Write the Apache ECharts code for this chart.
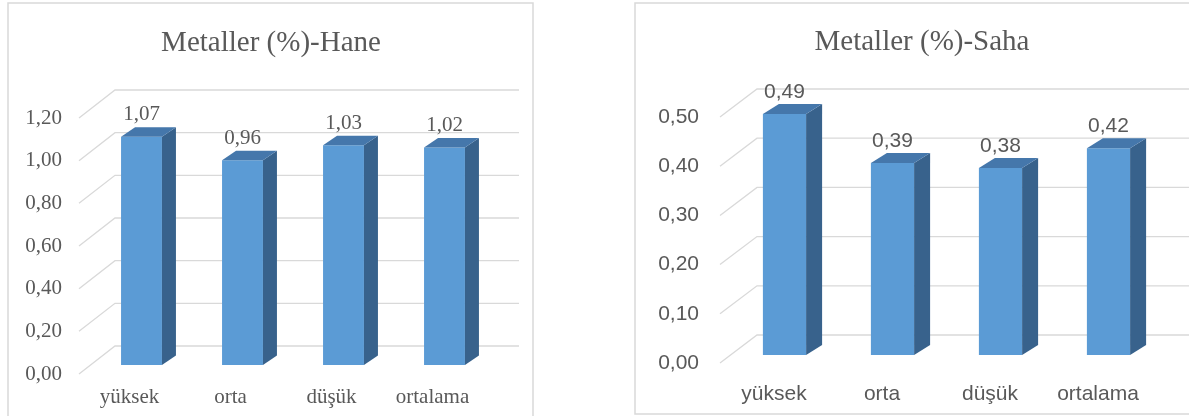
<!DOCTYPE html>
<html><head><meta charset="utf-8">
<script src="https://cdn.jsdelivr.net/npm/echarts@6/dist/echarts.min.js"></script>
<style>html,body{margin:0;padding:0;background:#fff}#c{width:1189px;height:416px}</style>
</head><body><div id="c"></div>
<script>
const categories = ['yüksek', 'orta', 'düşük', 'ortalama'];
const haneValues = [1.07, 0.96, 1.03, 1.02];
const sahaValues = [0.49, 0.39, 0.38, 0.42];
const haneTicks = [0, 0.2, 0.4, 0.6, 0.8, 1.0, 1.2];
const sahaTicks = [0, 0.1, 0.2, 0.3, 0.4, 0.5];
const haneTitle = 'Metaller (%)-Hane';
const sahaTitle = 'Metaller (%)-Saha';

const TXT = '#595959', GRID = '#d9d9d9';
const FRONT = '#5b9bd5', SIDE = '#38628c', TOP = '#4577ab';
const SERIF = '"Liberation Serif", "DejaVu Serif", serif';
const SANS = '"Liberation Sans", Arial, sans-serif';
const fmt = v => Number(v).toFixed(2).replace('.', ',');

function wallRender(p) {
  return function (params, api) {
    const t = api.value(1);
    const c = api.coord([0, t]);
    const band = api.size([1, 0])[0];
    const xl = c[0] - band / 2, xr = xl + band * categories.length;
    return {
      type: 'polyline',
      shape: { points: [[xl, c[1]], [xl + p.wx, c[1] - p.wy], [xr + p.wx, c[1] - p.wy]] },
      style: { stroke: GRID, lineWidth: 1.3, fill: null }
    };
  };
}
function barRender(p) {
  return function (params, api) {
    const i = api.value(0), v = api.value(1);
    const top = api.coord([i, v]), base = api.coord([i, 0]);
    const band = api.size([1, 0])[0];
    const w = band * p.ratio;
    const x0 = base[0] - w / 2 + p.ox, x1 = x0 + w;
    const yb = base[1] - p.oy, yt = top[1] - p.oy;
    const dx = p.dx, dy = p.dy;
    return {
      type: 'group', children: [
        { type: 'polygon', shape: { points: [[x0, yt], [x1, yt], [x1, yb], [x0, yb]] }, style: { fill: FRONT } },
        { type: 'polygon', shape: { points: [[x1, yt], [x1 + dx, yt - dy], [x1 + dx, yb - dy], [x1, yb]] }, style: { fill: SIDE } },
        { type: 'polygon', shape: { points: [[x0, yt], [x0 + dx, yt - dy], [x1 + dx, yt - dy], [x1, yt]] }, style: { fill: TOP } },
        { type: 'text', style: { text: fmt(v), x: (x0 + x1) / 2, y: yt - p.lab, align: 'center', verticalAlign: 'middle',
            font: p.font, fill: TXT } }
      ]
    };
  };
}

const pH = { wx: 36, wy: 28, ox: 12, oy: 9, dx: 14, dy: 9.5, ratio: 0.405, lab: 22, font: '21px ' + SERIF };
const pS = { wx: 37, wy: 28, ox: 10.5, oy: 8, dx: 16, dy: 10, ratio: 0.4, lab: 22, font: '21px ' + SANS };

const chart = echarts.init(document.getElementById('c'), null, { renderer: 'canvas' });
chart.setOption({
  animation: false,
  graphic: [
    { type: 'rect', shape: { x: 8, y: 3, width: 525, height: 430 }, style: { fill: null, stroke: GRID, lineWidth: 1.5 }, z: -1 },
    { type: 'rect', shape: { x: 635, y: 3, width: 600, height: 411 }, style: { fill: null, stroke: GRID, lineWidth: 1.5 }, z: -1 },
    { type: 'text', x: 271, y: 43, style: { text: haneTitle, font: '29px ' + SERIF, fill: TXT, align: 'center', verticalAlign: 'middle' } },
    { type: 'text', x: 922, y: 42, style: { text: sahaTitle, font: '29px ' + SERIF, fill: TXT, align: 'center', verticalAlign: 'middle' } }
  ],
  grid: [
    { left: 79, top: 118, width: 404, height: 256 },
    { left: 720, top: 117, width: 432, height: 246 }
  ],
  xAxis: [
    { type: 'category', gridIndex: 0, data: categories, axisLine: { show: false }, axisTick: { show: false }, splitLine: { show: false },
      axisLabel: { color: TXT, fontFamily: SERIF, fontSize: 21, margin: 13 } },
    { type: 'category', gridIndex: 1, data: categories, axisLine: { show: false }, axisTick: { show: false }, splitLine: { show: false },
      axisLabel: { color: TXT, fontFamily: SANS, fontSize: 21, margin: 21 } }
  ],
  yAxis: [
    { type: 'value', gridIndex: 0, min: 0, max: 1.2, interval: 0.2, axisLine: { show: false }, axisTick: { show: false }, splitLine: { show: false },
      axisLabel: { color: TXT, fontFamily: SERIF, fontSize: 21, margin: 17, formatter: fmt } },
    { type: 'value', gridIndex: 1, min: 0, max: 0.5, interval: 0.1, axisLine: { show: false }, axisTick: { show: false }, splitLine: { show: false },
      axisLabel: { color: TXT, fontFamily: SANS, fontSize: 21, margin: 21, formatter: fmt } }
  ],
  series: [
    { type: 'custom', xAxisIndex: 0, yAxisIndex: 0, data: haneTicks.map(t => [0, t]), renderItem: wallRender(pH), z: 1, silent: true, encode: { x: 0, y: 1 } },
    { type: 'custom', xAxisIndex: 0, yAxisIndex: 0, data: haneValues.map((v, i) => [i, v]), renderItem: barRender(pH), z: 2, encode: { x: 0, y: 1 } },
    { type: 'custom', xAxisIndex: 1, yAxisIndex: 1, data: sahaTicks.map(t => [0, t]), renderItem: wallRender(pS), z: 1, silent: true, encode: { x: 0, y: 1 } },
    { type: 'custom', xAxisIndex: 1, yAxisIndex: 1, data: sahaValues.map((v, i) => [i, v]), renderItem: barRender(pS), z: 2, encode: { x: 0, y: 1 } }
  ]
});
</script></body></html>
